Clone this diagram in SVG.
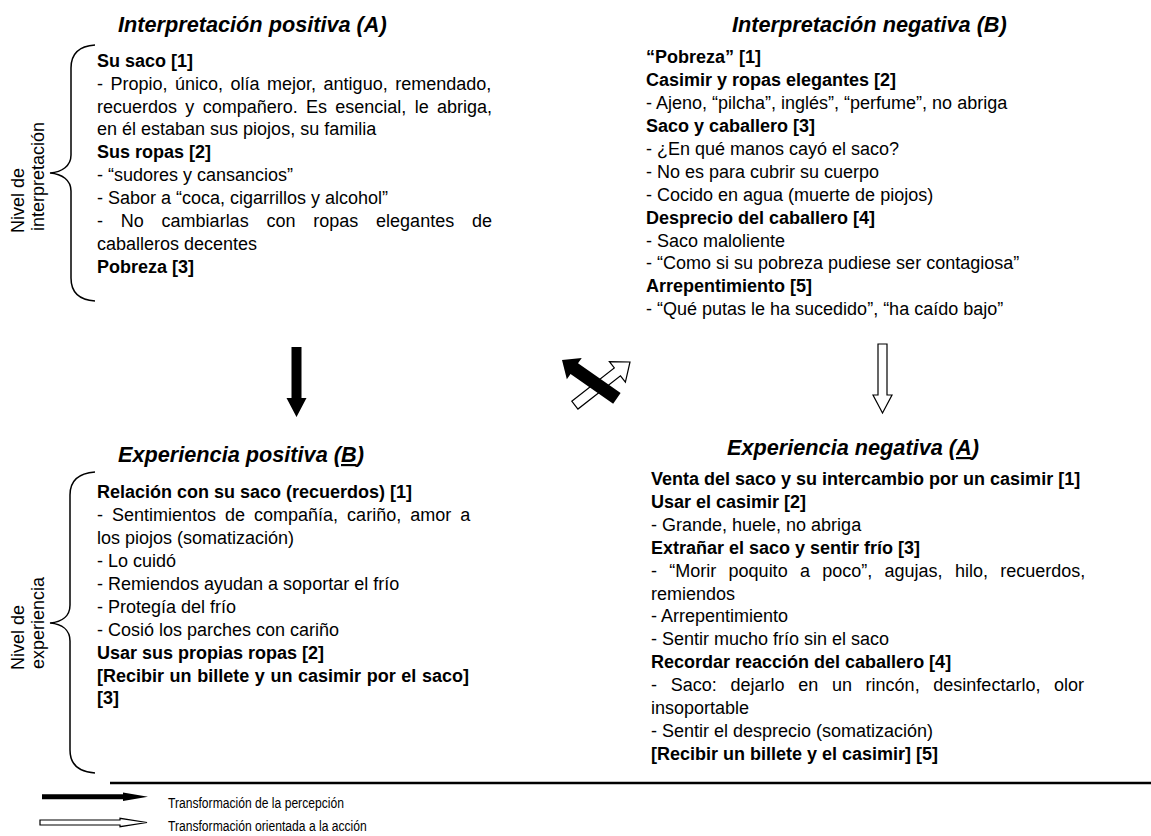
<svg xmlns="http://www.w3.org/2000/svg" width="1151" height="836" viewBox="0 0 1151 836">
  <style>
    text { font-family: "Liberation Sans", Arial, sans-serif; fill: #000; }
    .title { font-size: 21.7px; font-weight: bold; font-style: italic; }
    .body { font-size: 18px; }
    .b { font-weight: bold; }
    .lvl { font-size: 18px; }
    .legend { font-size: 14.6px; }
    .brace { fill: none; stroke: #000; stroke-width: 1.5; }
    .solid { fill: #000; stroke: none; }
    .hollow { fill: #fff; stroke: #000; stroke-width: 1.2; stroke-linejoin: miter; }
  </style>

  <!-- level labels with braces -->
  <g id="level-interpretacion">
    <path class="brace" d="M95,45 C80,46 71,53 71,68 L71,155 C71,166 62,172 50,173 C62,174 71,180 71,191 L71,278 C71,293 80,300 95,301"/>
    <text class="lvl" transform="translate(24,233) rotate(-90)">Nivel de</text>
    <text class="lvl" transform="translate(44,231) rotate(-90)">interpretación</text>
  </g>
  <g id="level-experiencia">
    <path class="brace" d="M95,472 C80,473 70,480 70,495 L70,605 C70,616 62,622 50,623 C62,624 70,630 70,641 L70,750 C70,765 80,772 95,773"/>
    <text class="lvl" transform="translate(24,670) rotate(-90)">Nivel de</text>
    <text class="lvl" transform="translate(44,669) rotate(-90)">experiencia</text>
  </g>

  <!-- Interpretación positiva (A) -->
  <g id="interpretacion-positiva">
    <text class="title" x="118" y="32">Interpretación positiva (A)</text>
    <text class="body" x="97">
      <tspan class="b" x="97" y="66.7">Su saco [1]</tspan>
      <tspan x="97" y="89.6" word-spacing="2.5">- Propio, único, olía mejor, antiguo, remendado,</tspan>
      <tspan x="97" y="112.5" word-spacing="3.3">recuerdos y compañero. Es esencial, le abriga,</tspan>
      <tspan x="97" y="135.4">en él estaban sus piojos, su familia</tspan>
      <tspan class="b" x="97" y="158.3">Sus ropas [2]</tspan>
      <tspan x="97" y="181.2">- “sudores y cansancios”</tspan>
      <tspan x="97" y="204.1">- Sabor a “coca, cigarrillos y alcohol”</tspan>
      <tspan x="97" y="227" word-spacing="12.8">- No cambiarlas con ropas elegantes de</tspan>
      <tspan x="97" y="249.9">caballeros decentes</tspan>
      <tspan class="b" x="97" y="272.8">Pobreza [3]</tspan>
    </text>
  </g>

  <!-- Interpretación negativa (B) -->
  <g id="interpretacion-negativa">
    <text class="title" x="732" y="32">Interpretación negativa (B)</text>
    <text class="body">
      <tspan class="b" x="646" y="63.3">“Pobreza” [1]</tspan>
      <tspan class="b" x="646" y="86.2">Casimir y ropas elegantes [2]</tspan>
      <tspan x="646" y="109.1">- Ajeno, “pilcha”, inglés”, “perfume”, no abriga</tspan>
      <tspan class="b" x="646" y="132">Saco y caballero [3]</tspan>
      <tspan x="646" y="154.9">- ¿En qué manos cayó el saco?</tspan>
      <tspan x="646" y="177.8">- No es para cubrir su cuerpo</tspan>
      <tspan x="646" y="200.7">- Cocido en agua (muerte de piojos)</tspan>
      <tspan class="b" x="646" y="223.6">Desprecio del caballero [4]</tspan>
      <tspan x="646" y="246.5">- Saco maloliente</tspan>
      <tspan x="646" y="269.4">- “Como si su pobreza pudiese ser contagiosa”</tspan>
      <tspan class="b" x="646" y="292.3">Arrepentimiento [5]</tspan>
      <tspan x="646" y="315.2">- “Qué putas le ha sucedido”, “ha caído bajo”</tspan>
    </text>
  </g>

  <!-- Experiencia positiva (B) -->
  <g id="experiencia-positiva">
    <text class="title" x="118" y="462">Experiencia positiva (<tspan text-decoration="underline">B</tspan>)</text>
    <text class="body">
      <tspan class="b" x="97" y="498.3">Relación con su saco (recuerdos) [1]</tspan>
      <tspan x="97" y="521.2" word-spacing="4">- Sentimientos de compañía, cariño, amor a</tspan>
      <tspan x="97" y="544.1">los piojos (somatización)</tspan>
      <tspan x="97" y="567">- Lo cuidó</tspan>
      <tspan x="97" y="589.9">- Remiendos ayudan a soportar el frío</tspan>
      <tspan x="97" y="612.8">- Protegía del frío</tspan>
      <tspan x="97" y="635.7">- Cosió los parches con cariño</tspan>
      <tspan class="b" x="97" y="658.6">Usar sus propias ropas [2]</tspan>
      <tspan class="b" x="97" y="681.5" word-spacing="0.6">[Recibir un billete y un casimir por el saco]</tspan>
      <tspan class="b" x="97" y="704.4">[3]</tspan>
    </text>
  </g>

  <!-- Experiencia negativa (A) -->
  <g id="experiencia-negativa">
    <text class="title" x="727" y="455">Experiencia negativa (<tspan text-decoration="underline">A</tspan>)</text>
    <text class="body">
      <tspan class="b" x="651" y="485">Venta del saco y su intercambio por un casimir [1]</tspan>
      <tspan class="b" x="651" y="507.9">Usar el casimir [2]</tspan>
      <tspan x="651" y="530.8">- Grande, huele, no abriga</tspan>
      <tspan class="b" x="651" y="553.7">Extrañar el saco y sentir frío [3]</tspan>
      <tspan x="651" y="576.6" word-spacing="7.3">- “Morir poquito a poco”, agujas, hilo, recuerdos,</tspan>
      <tspan x="651" y="599.5">remiendos</tspan>
      <tspan x="651" y="622.4">- Arrepentimiento</tspan>
      <tspan x="651" y="645.3">- Sentir mucho frío sin el saco</tspan>
      <tspan class="b" x="651" y="668.2">Recordar reacción del caballero [4]</tspan>
      <tspan x="651" y="691.1" word-spacing="8.7">- Saco: dejarlo en un rincón, desinfectarlo, olor</tspan>
      <tspan x="651" y="714">insoportable</tspan>
      <tspan x="651" y="736.9">- Sentir el desprecio (somatización)</tspan>
      <tspan class="b" x="651" y="759.8">[Recibir un billete y el casimir] [5]</tspan>
    </text>
  </g>

  <!-- transformation arrows between the quadrants -->
  <g id="connectors">
    <!-- perception: positive interpretation down to positive experience -->
    <path class="solid" d="M291.5,347 H301.5 V398 H306.5 L296.5,417 L286.5,398 H291.5 Z"/>
    <!-- action: negative interpretation down to negative experience -->
    <path class="hollow" d="M878,344 H887 V395 H892 L882.5,413 L873,395 H878 Z"/>
    <!-- crossing pair in the middle -->
    <path class="hollow" transform="translate(630,362) rotate(-38)" d="M-70,-5 H-16 V-13 L0,0 L-16,13 V5 H-70 Z"/>
    <path class="solid" transform="translate(562,360) rotate(215)" d="M-67,-6.5 H-15 V-13 L0,0 L-15,13 V6.5 H-67 Z"/>
  </g>

  <!-- separator and legend -->
  <g id="legend">
    <line x1="110" y1="783" x2="1151" y2="783" stroke="#000" stroke-width="2.5"/>
    <path class="solid" d="M42,794.2 H123 V792.5 L148,796.7 L123,801 V799.2 H42 Z"/>
    <text class="legend" transform="translate(168,808) scale(0.83,1)">Transformación de la percepción</text>
    <path class="hollow" stroke-width="1" d="M40,820 H120 V818.3 L147,822.5 L120,826.7 V825 H40 Z"/>
    <text class="legend" transform="translate(168,831) scale(0.83,1)">Transformación orientada a la acción</text>
  </g>
</svg>
